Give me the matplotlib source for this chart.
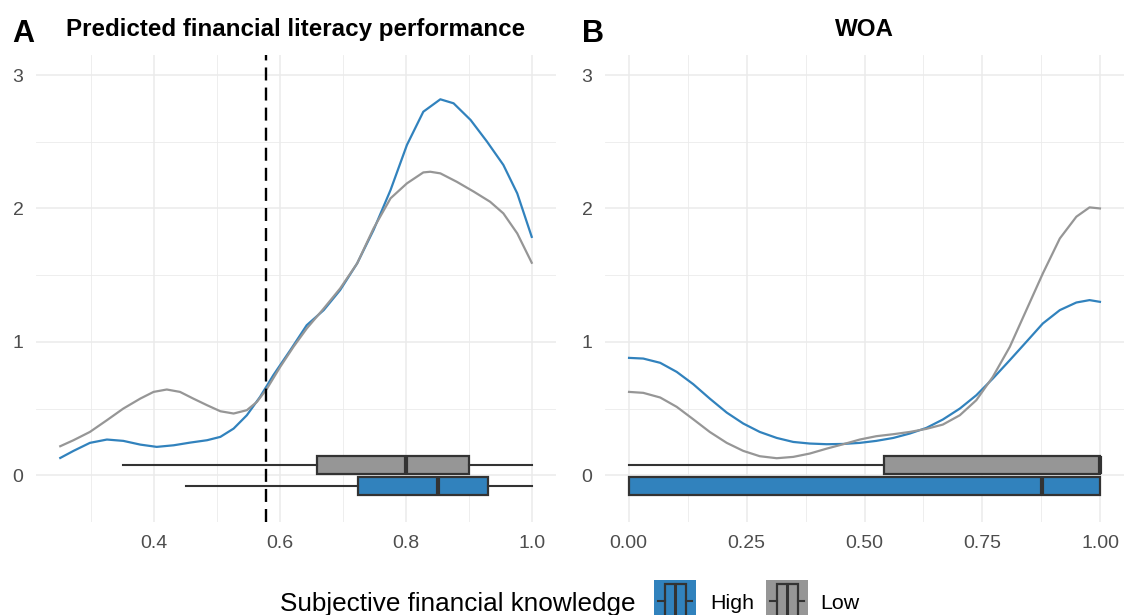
import matplotlib.pyplot as plt
from matplotlib.patches import Rectangle
from matplotlib.lines import Line2D

plt.rcParams["font.family"] = ["Liberation Sans", "DejaVu Sans"]

# colours
blue = "#3182BD"
grey = "#969696"
edge = "#333333"

# Panel A: density of predicted financial literacy performance
a_high_x = [0.251, 0.272, 0.298, 0.325, 0.351, 0.378, 0.404, 0.431, 0.457, 0.484,
            0.505, 0.526, 0.547, 0.568, 0.589, 0.616, 0.642, 0.669, 0.695, 0.722,
            0.748, 0.775, 0.801, 0.827, 0.854, 0.875, 0.902, 0.928, 0.954, 0.976,
            0.999]
a_high_y = [0.13, 0.183, 0.243, 0.268, 0.258, 0.23, 0.213, 0.225, 0.245, 0.263,
            0.288, 0.35, 0.45, 0.588, 0.75, 0.938, 1.125, 1.238, 1.388, 1.588,
            1.838, 2.138, 2.476, 2.725, 2.818, 2.788, 2.663, 2.501, 2.326, 2.113,
            1.787]
a_low_x = [0.251, 0.272, 0.298, 0.325, 0.351, 0.378, 0.399, 0.420, 0.441, 0.462,
           0.484, 0.505, 0.526, 0.547, 0.563, 0.579, 0.600, 0.621, 0.642, 0.669,
           0.695, 0.722, 0.748, 0.775, 0.801, 0.827, 0.838, 0.854, 0.880, 0.907,
           0.933, 0.954, 0.976, 0.999]
a_low_y = [0.218, 0.263, 0.325, 0.413, 0.50, 0.575, 0.625, 0.643, 0.625, 0.575,
           0.525, 0.48, 0.463, 0.488, 0.55, 0.65, 0.813, 0.963, 1.10, 1.25,
           1.40, 1.588, 1.85, 2.076, 2.188, 2.27, 2.275, 2.263, 2.20, 2.126,
           2.05, 1.963, 1.813, 1.593]

# Panel B: density of WOA
b_x = [0.001, 0.031, 0.067, 0.102, 0.137, 0.172, 0.208, 0.243, 0.278, 0.314,
       0.349, 0.384, 0.420, 0.455, 0.490, 0.525, 0.561, 0.596, 0.631, 0.666,
       0.702, 0.737, 0.772, 0.808, 0.843, 0.878, 0.914, 0.949, 0.977, 0.999]
b_high_y = [0.88, 0.875, 0.843, 0.775, 0.683, 0.575, 0.47, 0.388, 0.325, 0.28,
            0.25, 0.238, 0.233, 0.235, 0.243, 0.258, 0.28, 0.313, 0.355, 0.418,
            0.50, 0.60, 0.725, 0.863, 1.0, 1.138, 1.238, 1.295, 1.313, 1.30]
b_low_y = [0.625, 0.618, 0.583, 0.513, 0.42, 0.325, 0.243, 0.183, 0.143, 0.128,
           0.138, 0.163, 0.20, 0.233, 0.268, 0.293, 0.308, 0.325, 0.348, 0.38,
           0.45, 0.563, 0.738, 0.963, 1.238, 1.513, 1.775, 1.938, 2.008, 2.0]

# boxplot summaries: whislo, q1, med, q3, whishi
a_box_low = [0.35, 0.659, 0.80, 0.90, 1.0]
a_box_high = [0.451, 0.723, 0.85, 0.93, 1.0]
b_box_low = [0.0, 0.542, 1.0, 1.0, 1.0]
b_box_high = [0.0, 0.0, 0.877, 1.0, 1.0]

threshold = 0.578

W, H = 1124, 615
fig = plt.figure(figsize=(W / 100, H / 100), dpi=100)


def px_axes(left, top, right, bottom):
    return fig.add_axes([left / W, 1 - bottom / H, (right - left) / W, (bottom - top) / H])


def stats(v):
    return dict(whislo=v[0], q1=v[1], med=v[2], q3=v[3], whishi=v[4])


def style(ax, xmaj, xmin, xlabels, xlim):
    ax.set_xlim(*xlim)
    ax.set_ylim(-0.35, 3.15)
    ax.set_xticks(xmaj)
    ax.set_xticklabels(xlabels)
    ax.set_xticks(xmin, minor=True)
    ax.set_yticks([0, 1, 2, 3])
    ax.set_yticklabels(["0", "1", "2", "3"])
    ax.set_yticks([0.5, 1.5, 2.5], minor=True)
    ax.grid(True, which="major", color="#EBEBEB", lw=1.1)
    ax.grid(True, which="minor", color="#EBEBEB", lw=0.6)
    ax.set_axisbelow(True)
    for s in ax.spines.values():
        s.set_visible(False)
    ax.tick_params(which="both", length=0, labelsize=14, labelcolor="#4D4D4D", pad=9)


def boxes(ax, low, high):
    ax.bxp([stats(low), stats(high)], positions=[0.077, -0.077], widths=0.135,
           orientation="horizontal", showfliers=False, showcaps=False,
           patch_artist=True, manage_ticks=False,
           boxprops=dict(edgecolor=edge, lw=1.6),
           whiskerprops=dict(color=edge, lw=1.5),
           medianprops=dict(color=edge, lw=3))
    ax.patches[-2].set_facecolor(grey)
    ax.patches[-1].set_facecolor(blue)


# Panel A
axA = px_axes(36, 55, 556, 522)
style(axA, [0.4, 0.6, 0.8, 1.0], [0.3, 0.5, 0.7, 0.9],
      ["0.4", "0.6", "0.8", "1.0"], (0.2125, 1.0375))
axA.plot(a_high_x, a_high_y, color=blue, lw=1.6)
axA.plot(a_low_x, a_low_y, color=grey, lw=1.6)
boxes(axA, a_box_low, a_box_high)
axA.axvline(threshold, color="black", lw=1.7, dashes=(5.5, 3))
axA.set_title("Predicted financial literacy performance", fontsize=17.4,
              fontweight="bold", pad=14)

# Panel B
axB = px_axes(605, 55, 1124, 522)
style(axB, [0, 0.25, 0.5, 0.75, 1.0], [0.125, 0.375, 0.625, 0.875],
      ["0.00", "0.25", "0.50", "0.75", "1.00"], (-0.05, 1.05))
axB.plot(b_x, b_high_y, color=blue, lw=1.6)
axB.plot(b_x, b_low_y, color=grey, lw=1.6)
boxes(axB, b_box_low, b_box_high)
axB.set_title("WOA", fontsize=17.4, fontweight="bold", pad=14)

# panel tags
fig.text(12 / W, 1 - 42 / H, "A", fontsize=22, fontweight="bold", va="baseline")
fig.text(582 / W, 1 - 42 / H, "B", fontsize=22, fontweight="bold", va="baseline")

# legend at the bottom
fig.text(280 / W, 1 - 611 / H, "Subjective financial knowledge", fontsize=18.8,
         va="baseline", ha="left")


def key(x0, colour):
    y0 = 580
    s = 42

    def fx(p):
        return (x0 + p * s) / W

    def fy(p):
        return 1 - (y0 + p * s) / H

    fig.add_artist(Rectangle((fx(0), fy(1)), s / W, s / H, facecolor=colour,
                             edgecolor="none", transform=fig.transFigure))
    fig.add_artist(Rectangle((fx(0.25), fy(0.9)), 0.5 * s / W, 0.8 * s / H,
                             facecolor=colour, edgecolor=edge, lw=1.6,
                             transform=fig.transFigure))
    fig.add_artist(Line2D([fx(0.5), fx(0.5)], [fy(0.1), fy(0.9)], color=edge, lw=2.2))
    fig.add_artist(Line2D([fx(0.1), fx(0.25)], [fy(0.5), fy(0.5)], color=edge, lw=1.5))
    fig.add_artist(Line2D([fx(0.75), fx(0.9)], [fy(0.5), fy(0.5)], color=edge, lw=1.5))


key(654, blue)
fig.text(710 / W, 1 - 609 / H, "High", fontsize=15.4, va="baseline")
key(766, grey)
fig.text(820 / W, 1 - 609 / H, "Low", fontsize=15.4, va="baseline")

fig.savefig("out.png", dpi=100)
